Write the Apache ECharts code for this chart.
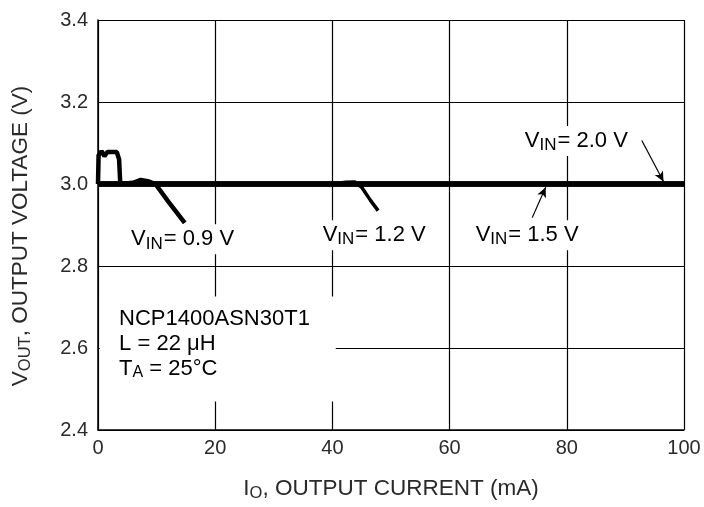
<!DOCTYPE html>
<html><head><meta charset="utf-8">
<script src="https://cdn.jsdelivr.net/npm/echarts@6/dist/echarts.min.js"></script>
<style>html,body{margin:0;padding:0;background:#fff}#c{width:704px;height:507px}</style>
</head><body><div id="c"></div>
<script>
var xTicks = [0, 20, 40, 60, 80, 100];
var yTicks = [2.4, 2.6, 2.8, 3.0, 3.2, 3.4];
var vin20 = [[0, 3.0], [100, 3.0]];
var vin15 = [[0, 3.0], [100, 3.0]];
var vin12 = [[40, 3.0], [42.3, 3.004], [43.8, 3.005], [45, 2.992], [46.5, 2.96], [47.8, 2.935]];
var vin09 = [[0, 3.0], [0.1, 3.07], [0.6, 3.08], [1.1, 3.068], [1.6, 3.078], [3.2, 3.078], [3.6, 3.06], [3.8, 3.0], [6, 3.003], [7.3, 3.01], [8.5, 3.007], [9.8, 3.0], [12, 2.957], [14.8, 2.905]];
var labels = [
  {sub: 'IN', text: '= 0.9 V', at: [5.3, 2.865]},
  {sub: 'IN', text: '= 1.2 V', at: [38.0, 2.875]},
  {sub: 'IN', text: '= 1.5 V', at: [64.1, 2.875]},
  {sub: 'IN', text: '= 2.0 V', at: [72.5, 3.105]}
];
var arrows = [
  [[74.1, 2.918], [76.4, 2.992]],
  [[92.8, 3.106], [96.5, 3.006]]
];
var noteLines = ['NCP1400ASN30T1', 'L = 22 \u03bcH', 'T_A = 25\u00b0C'];
var noteAt = [3.6, 2.672];

var FONT = '"Liberation Sans", Arial, sans-serif';
var TC = '#2a2a2a';
var chart = echarts.init(document.getElementById('c'), null, {renderer: 'canvas'});
var lineStyle = function (w) { return {color: '#000', width: w}; };
var nameRich = {a: {fontFamily: FONT, fontSize: 22.5, color: TC}, s: {fontFamily: FONT, fontSize: 16.5, color: TC, padding: [9, 0, 0, 0]}};
chart.setOption({
  animation: false,
  grid: {left: 98, right: 20, top: 20, bottom: 72},
  xAxis: {
    type: 'value', min: 0, max: 100, interval: 20,
    name: '{a|I}{s|O}{a|, OUTPUT CURRENT (mA)}',
    nameLocation: 'middle', nameGap: 46,
    nameTextStyle: {rich: nameRich},
    axisLine: {lineStyle: {color: '#000', width: 1.5}},
    axisTick: {show: false},
    axisLabel: {fontFamily: FONT, fontSize: 20, color: TC, margin: 8},
    splitLine: {show: true, lineStyle: {color: '#000', width: 1.2}}
  },
  yAxis: {
    type: 'value', min: 2.4, max: 3.4, interval: 0.2,
    name: '{a|V}{s|OUT}{a|, OUTPUT VOLTAGE (V)}',
    nameLocation: 'middle', nameGap: 64,
    nameTextStyle: {rich: nameRich, padding: [0, 22, 0, 0]},
    axisLine: {show: true, lineStyle: {color: '#000', width: 1.5}},
    axisTick: {show: false},
    axisLabel: {fontFamily: FONT, fontSize: 20, color: TC, margin: 10, formatter: function (v) { return v.toFixed(1); }},
    splitLine: {show: true, lineStyle: {color: '#000', width: 1.2}}
  },
  series: [
    {type: 'line', name: 'VIN 2.0', data: vin20, showSymbol: false, lineStyle: lineStyle(5.5), z: 5,
     markLine: {silent: true, symbol: ['none', 'arrow'], symbolSize: [7, 10], label: {show: false},
       lineStyle: {color: '#000', width: 1.2, type: 'solid'},
       data: arrows.map(function (a) { return [{coord: a[0]}, {coord: a[1]}]; })}},
    {type: 'line', name: 'VIN 1.5', data: vin15, showSymbol: false, lineStyle: lineStyle(5.5), z: 5},
    {type: 'line', name: 'VIN 1.2', data: vin12, showSymbol: false, lineStyle: lineStyle(3.5), z: 5},
    {type: 'line', name: 'VIN 0.9', data: vin09, showSymbol: false, lineStyle: lineStyle(4.5), z: 5}
  ]
});

var lrich = {
  a: {fontFamily: FONT, fontSize: 22, color: TC},
  s: {fontFamily: FONT, fontSize: 17, color: TC, padding: [9, 1, 0, 0]}
};
var nrich = {
  a: {fontFamily: FONT, fontSize: 22, color: TC},
  s: {fontFamily: FONT, fontSize: 16, color: TC, padding: [9, 0, 0, 0]}
};
var g = [];
labels.forEach(function (l) {
  var p = chart.convertToPixel({gridIndex: 0}, l.at);
  g.push({type: 'text', x: p[0], y: p[1], z: 10,
    style: {text: '{a|V}{s|' + l.sub + '}{a|' + l.text + '}', rich: lrich, verticalAlign: 'middle', align: 'left',
      backgroundColor: '#fff', padding: [2, 2, 2, 2]}});
});
var np = chart.convertToPixel({gridIndex: 0}, noteAt);
var np2 = chart.convertToPixel({gridIndex: 0}, [0.3, 2.6]);
g.push({type: 'rect', shape: {x: np2[0], y: np[1] - 22, width: 236, height: 105}, style: {fill: '#fff'}, z: 9});
noteLines.forEach(function (t, i) {
  var txt;
  if (t.indexOf('_') >= 0) {
    var parts = t.split('_');
    var sub = parts[1].charAt(0);
    txt = '{a|' + parts[0] + '}{s|' + sub + '}{a|' + parts[1].slice(1) + '}';
  } else {
    txt = '{a|' + t + '}';
  }
  g.push({type: 'text', x: np[0], y: np[1] + i * 25, z: 10,
    style: {text: txt, rich: nrich, verticalAlign: 'middle', align: 'left'}});
});
chart.setOption({graphic: g});
</script>
</body></html>
